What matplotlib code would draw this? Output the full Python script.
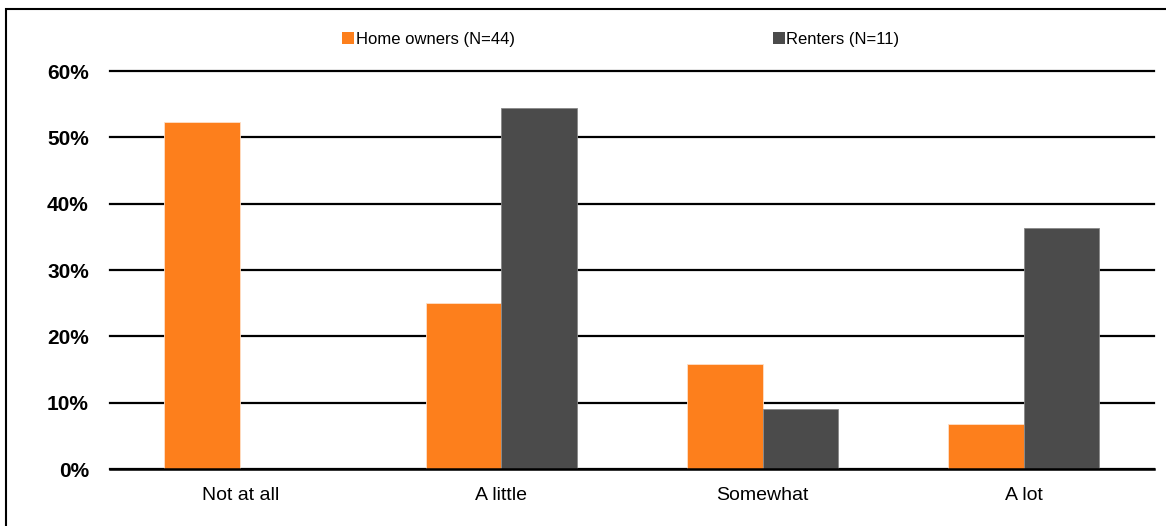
import numpy as np
import matplotlib
matplotlib.use('Agg')
import matplotlib.pyplot as plt
from matplotlib.patches import Rectangle, Patch

plt.rcParams['font.family'] = ['Liberation Sans', 'DejaVu Sans']

categories = ['Not at all', 'A little', 'Somewhat', 'A lot']
owners = [52.3, 25.0, 15.9, 6.8]
renters = [0.0, 54.5, 9.1, 36.4]
series_names = ['Home owners (N=44)', 'Renters (N=11)']
yticks = [0, 10, 20, 30, 40, 50, 60]

orange = '#FD7F1C'
grey = '#4B4B4B'

fig = plt.figure(figsize=(11.66, 5.26), dpi=100)
ax = fig.add_axes([0.094, 0.108, 0.896, 0.757])

x = np.arange(len(categories))
w = 0.29
ax.bar(x - w / 2, owners, w, color=orange, edgecolor='#FFE0C8', linewidth=0.6, zorder=3)
ax.bar(x + w / 2, renters, w, color=grey, edgecolor='#888888', linewidth=0.6, zorder=3)

ax.set_xlim(-0.5, len(categories) - 0.5)
ax.set_ylim(0, 60)
ax.set_yticks(yticks)
ax.set_yticklabels(['%d%%' % v for v in yticks], fontsize=15, fontweight='bold')
ax.set_xticks(x)
ax.set_xticklabels(categories, fontsize=14)
ax.tick_params(length=0)
ax.tick_params(axis='x', pad=13)
ax.tick_params(axis='y', pad=15)
ax.grid(axis='y', color='black', linewidth=1.6, zorder=1)
for gl in ax.get_ygridlines():
    gl.set_clip_on(False)
for s in ['left', 'right', 'top']:
    ax.spines[s].set_visible(False)
ax.spines['bottom'].set_linewidth(1.8)
ax.spines['bottom'].set_zorder(4)

handles = [Patch(facecolor=orange), Patch(facecolor=grey)]
fig.legend(handles, series_names, loc='center left', bbox_to_anchor=(0.288, 0.925),
           ncol=2, frameon=False, fontsize=12, handlelength=0.7, handleheight=0.7,
           handletextpad=0.1, columnspacing=15.5, borderaxespad=0)

top = 1 - 9 / 526
fig.patches.append(Rectangle((6 / 1166, -0.1), 1.2, top + 0.1,
                             transform=fig.transFigure, fill=False,
                             edgecolor='black', linewidth=1.5))

fig.savefig('out.png', dpi=100)
